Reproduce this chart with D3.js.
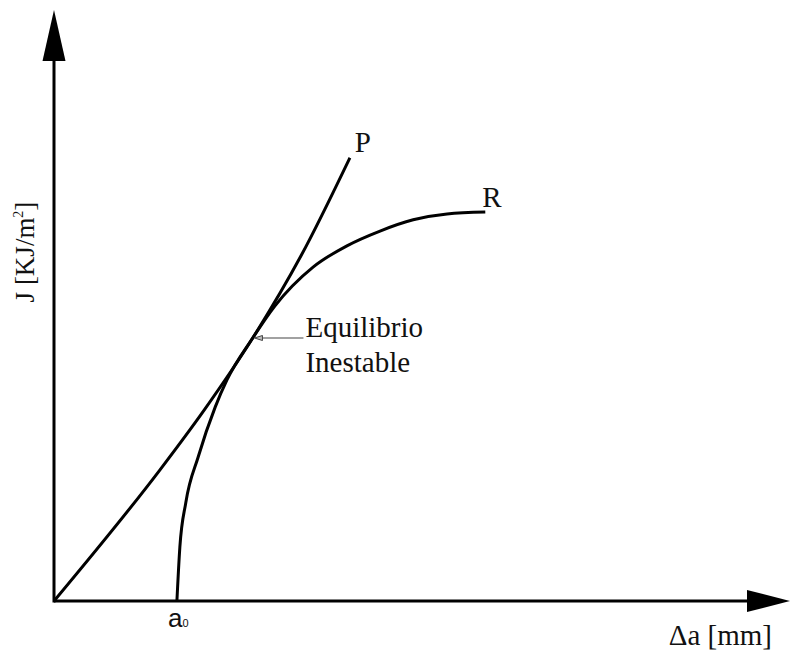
<!DOCTYPE html>
<html>
<head>
<meta charset="utf-8">
<script src="https://cdn.jsdelivr.net/npm/d3@7"></script>
<style>
  html, body { margin: 0; padding: 0; background: #fff; }
  svg { display: block; }
  text { font-family: "Liberation Serif", "Times New Roman", serif; fill: #111; }
</style>
</head>
<body>
<svg id="chart" width="790" height="653"></svg>
<script>
// Crack growth resistance: driving force P vs. resistance curve R
const axisLabels = { x: "Δa [mm]", y: "J [KJ/m²]" };

// Resistance curve R (Δa, J) in plot units 0..100
const rCurveA = [16.7, 17.1, 17.9, 19.6, 21.9, 23.5, 27.0, 30.0, 35.2, 39.8, 44.3, 48.8, 53.4, 58.6];
const rCurveJ = [0, 9.1, 16.6, 24.4, 32.8, 37.4, 44.5, 49.9, 56.5, 60.1, 62.6, 64.5, 65.5, 65.8];

// Driving force curve P
const pCurveA = [0, 14.4, 20.4, 27.0, 33.6, 40.2];
const pCurveJ = [0, 22.2, 32.3, 44.5, 58.5, 75.0];

// Initial crack length marker
const a0Value = 16.7;

// Point of unstable equilibrium (tangency)
const tangentPoint = [27.1, 44.5];
const tangentLabel = ["Equilibrio", "Inestable"];

const svg = d3.select("#chart");

const x = d3.scaleLinear().domain([0, 100]).range([54, 790]);
const y = d3.scaleLinear().domain([0, 100]).range([601, 10]);

// Axes with filled arrowheads
const g = svg.append("g");
const xArrowLen = 43, xArrowHalf = 11;
const yArrowLen = 51, yArrowHalf = 11.5;

g.append("line")
  .attr("x1", x(0)).attr("y1", y(0))
  .attr("x2", x(100) - xArrowLen + 1).attr("y2", y(0))
  .attr("stroke", "#000").attr("stroke-width", 3);
g.append("line")
  .attr("x1", x(0)).attr("y1", y(0) + 1.5)
  .attr("x2", x(0)).attr("y2", y(100) + yArrowLen - 1)
  .attr("stroke", "#000").attr("stroke-width", 3);

g.append("path")
  .attr("d", `M${x(100)},${y(0)} L${x(100) - xArrowLen},${y(0) - xArrowHalf} L${x(100) - xArrowLen},${y(0) + xArrowHalf} Z`)
  .attr("fill", "#000");
g.append("path")
  .attr("d", `M${x(0)},${y(100)} L${x(0) - yArrowHalf},${y(100) + yArrowLen} L${x(0) + yArrowHalf},${y(100) + yArrowLen} Z`)
  .attr("fill", "#000");

// Curves
const line = d3.line()
  .x(d => x(d[0]))
  .y(d => y(d[1]))
  .curve(d3.curveMonotoneX);

const pData = pCurveA.map((a, i) => [a, pCurveJ[i]]);
const rData = rCurveA.map((a, i) => [a, rCurveJ[i]]);

svg.append("path")
  .datum(pData)
  .attr("d", line)
  .attr("fill", "none").attr("stroke", "#000").attr("stroke-width", 3)
  .attr("stroke-linecap", "butt");

svg.append("path")
  .datum(rData)
  .attr("d", line)
  .attr("fill", "none").attr("stroke", "#000").attr("stroke-width", 3)
  .attr("stroke-linecap", "butt");

// Curve labels
const pEnd = pData[pData.length - 1];
const rEnd = rData[rData.length - 1];
svg.append("text")
  .attr("x", x(pEnd[0]) + 5).attr("y", y(pEnd[1]) - 6)
  .attr("font-size", 29).text("P");
svg.append("text")
  .attr("x", x(rEnd[0]) - 3).attr("y", y(rEnd[1]) - 5)
  .attr("font-size", 29).text("R");

// Callout for the unstable equilibrium point
const tx = x(tangentPoint[0]), ty = y(tangentPoint[1]);
svg.append("line")
  .attr("x1", tx + 7).attr("y1", ty)
  .attr("x2", tx + 50).attr("y2", ty)
  .attr("stroke", "#444").attr("stroke-width", 1.2);
svg.append("path")
  .attr("d", `M${tx + 1},${ty} L${tx + 9},${ty - 2.5} L${tx + 9},${ty + 2.5} Z`)
  .attr("fill", "#bbb").attr("stroke", "#444").attr("stroke-width", 1);

svg.append("g").selectAll("text")
  .data(tangentLabel)
  .join("text")
  .attr("x", tx + 52)
  .attr("y", (d, i) => ty - 1 + i * 35)
  .attr("font-size", 29)
  .text(d => d);

// a0 marker under the x axis
const a0 = svg.append("text")
  .attr("x", x(a0Value) - 9).attr("y", 627)
  .style("font-family", "'Liberation Sans', Arial, sans-serif")
  .attr("font-size", 26);
a0.append("tspan").text("a");
a0.append("tspan").attr("font-size", 11).text("0");

// Axis titles
svg.append("text")
  .attr("x", 772).attr("y", 645)
  .attr("text-anchor", "end")
  .attr("font-size", 29)
  .text(axisLabels.x);

const yTitle = svg.append("text")
  .attr("transform", "translate(34,252) rotate(-90)")
  .attr("text-anchor", "middle")
  .attr("font-size", 27);
yTitle.append("tspan").text("J [KJ/m");
yTitle.append("tspan").attr("font-size", 14).attr("dy", -11).text("2");
yTitle.append("tspan").attr("dy", 11).text("]");
</script>
</body>
</html>
